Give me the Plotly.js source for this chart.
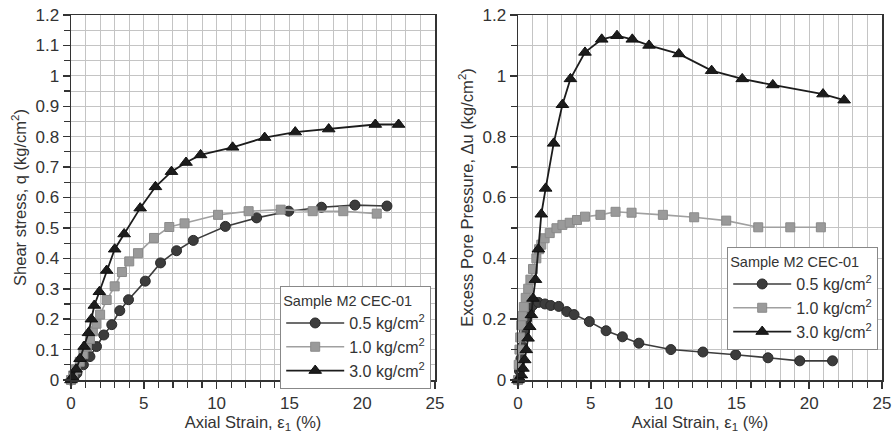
<!DOCTYPE html>
<html><head><meta charset="utf-8">
<script src="https://cdn.plot.ly/plotly-3.0.1.min.js"></script>
<style>body{margin:0;background:#fff}</style></head>
<body><div id="chart" style="width:895px;height:436px"></div>
<script>
// Left panel: shear stress q vs axial strain
const qStrain05 = [0, 0.2, 0.4, 0.85, 1.3, 1.75, 2.25, 2.8, 3.35, 3.95, 5.1, 6.15, 7.25, 8.4, 10.6, 12.75, 14.95, 17.2, 19.5, 21.7];
const q05 = [0, 0.01, 0.022, 0.05, 0.077, 0.11, 0.148, 0.182, 0.228, 0.264, 0.325, 0.385, 0.425, 0.459, 0.505, 0.533, 0.555, 0.568, 0.575, 0.572];
const qStrain10 = [0, 0.15, 0.35, 0.6, 0.85, 1.1, 1.3, 1.5, 1.75, 2.0, 2.45, 3.0, 3.5, 4.0, 4.6, 5.7, 6.75, 7.8, 10.1, 12.2, 14.4, 16.6, 18.7, 21.0];
const q10 = [0, 0.015, 0.035, 0.06, 0.085, 0.11, 0.135, 0.16, 0.185, 0.215, 0.263, 0.308, 0.355, 0.39, 0.417, 0.467, 0.503, 0.515, 0.543, 0.555, 0.56, 0.555, 0.555, 0.547];
const qStrain30 = [0, 0.1, 0.35, 0.62, 0.9, 1.2, 1.4, 1.6, 1.95, 2.45, 3.0, 3.65, 4.75, 5.8, 6.9, 7.9, 8.9, 11.1, 13.3, 15.4, 17.7, 20.9, 22.5];
const q30 = [0, 0.01, 0.035, 0.07, 0.11, 0.155, 0.2, 0.245, 0.29, 0.36, 0.43, 0.48, 0.565, 0.635, 0.685, 0.715, 0.74, 0.765, 0.797, 0.815, 0.825, 0.84, 0.84];

// Right panel: excess pore pressure du vs axial strain
const uStrain05 = [0, 0.1, 0.2, 0.3, 0.45, 0.6, 0.8, 1.0, 1.4, 1.85, 2.25, 2.8, 3.35, 3.85, 4.9, 6.05, 7.17, 8.3, 10.5, 12.7, 14.95, 17.17, 19.35, 21.6];
const u05 = [0, 0.03, 0.07, 0.11, 0.16, 0.2, 0.23, 0.245, 0.255, 0.25, 0.245, 0.242, 0.225, 0.215, 0.192, 0.162, 0.142, 0.121, 0.1, 0.092, 0.083, 0.073, 0.063, 0.063];
const uStrain10 = [0, 0.05, 0.1, 0.15, 0.22, 0.3, 0.4, 0.53, 0.7, 0.85, 1.03, 1.26, 1.45, 1.6, 1.83, 2.18, 2.64, 3.05, 3.55, 4.05, 4.6, 5.66, 6.7, 7.8, 9.95, 12.1, 14.3, 16.5, 18.7, 20.8];
const u10 = [0, 0.05, 0.1, 0.14, 0.18, 0.21, 0.24, 0.27, 0.3, 0.33, 0.365, 0.4, 0.43, 0.445, 0.466, 0.483, 0.499, 0.51, 0.517, 0.526, 0.537, 0.543, 0.553, 0.55, 0.543, 0.535, 0.524, 0.502, 0.502, 0.502];
const uStrain30 = [0, 0.1, 0.23, 0.34, 0.46, 0.57, 0.69, 0.8, 0.92, 1.03, 1.2, 1.4, 1.6, 1.9, 2.45, 3.05, 3.6, 4.6, 5.75, 6.8, 7.85, 9.0, 11.05, 13.3, 15.4, 17.5, 20.95, 22.4];
const u30 = [0, 0.005, 0.016, 0.038, 0.066, 0.099, 0.137, 0.175, 0.214, 0.268, 0.33, 0.43, 0.545, 0.63, 0.778, 0.905, 0.99, 1.077, 1.12, 1.132, 1.12, 1.1, 1.072, 1.017, 0.99, 0.97, 0.94, 0.92];

const seriesNames = ['0.5 kg/cm<sup>2</sup>', '1.0 kg/cm<sup>2</sup>', '3.0 kg/cm<sup>2</sup>'];
const legendTitle = 'Sample M2 CEC-01';

const styles = [
  {line: {color: '#3c3c3c', width: 1.6}, marker: {symbol: 'circle', size: 10, color: '#3c3c3c', line: {color: '#2a2a2a', width: 1}}},
  {line: {color: '#a0a0a0', width: 1.6}, marker: {symbol: 'square', size: 9, color: '#9a9a9a', line: {color: '#8a8a8a', width: 1}}},
  {line: {color: '#1c1c1c', width: 1.8}, marker: {symbol: 'triangle-up', size: 11, color: '#1c1c1c', line: {color: '#111', width: 1}}}
];

function tr(x, y, i, xa, ya, lg) {
  return Object.assign({x: x, y: y, name: seriesNames[i], type: 'scatter', mode: 'lines+markers',
    xaxis: xa, yaxis: ya, legend: lg, cliponaxis: false}, styles[i]);
}

const data = [
  tr(qStrain05, q05, 0, 'x', 'y', 'legend'),
  tr(qStrain10, q10, 1, 'x', 'y', 'legend'),
  tr(qStrain30, q30, 2, 'x', 'y', 'legend'),
  tr(uStrain05, u05, 0, 'x2', 'y2', 'legend2'),
  tr(uStrain10, u10, 1, 'x2', 'y2', 'legend2'),
  tr(uStrain30, u30, 2, 'x2', 'y2', 'legend2')
];

const W = 895, H = 436;
const font = {family: 'Liberation Sans, Arial, sans-serif', size: 16, color: '#333'};
const gridc = '#c4c4c4';

function xax(d, anchor) {
  return {domain: d, anchor: anchor, range: [0, 25], tick0: 0, dtick: 5, ticks: 'outside', ticklen: 7, tickwidth: 1.5,
    tickcolor: '#333', showline: true, linecolor: '#333', linewidth: 1.5, mirror: true, zeroline: false,
    showgrid: true, gridcolor: gridc, gridwidth: 1, tickfont: {size: 17, color: '#333'},
    minor: {dtick: 1, showgrid: true, gridcolor: gridc, gridwidth: 1, ticks: 'outside', ticklen: 6, tickcolor: '#333', tickwidth: 1.2},
    title: {text: 'Axial Strain, ε<sub>1</sub> (%)', font: {size: 16.5, color: '#333'}, standoff: 2}};
}
function yax(d, anchor, dt, mdt, title) {
  return {domain: d, anchor: anchor, range: [0, 1.2], tick0: 0, dtick: dt, ticks: 'outside', ticklen: 7, tickwidth: 1.5,
    tickcolor: '#333', showline: true, linecolor: '#333', linewidth: 1.5, mirror: true, zeroline: false,
    showgrid: true, gridcolor: gridc, gridwidth: 1, tickfont: {size: 17, color: '#333'},
    minor: {dtick: mdt, showgrid: true, gridcolor: gridc, gridwidth: 1, ticks: 'outside', ticklen: 6, tickcolor: '#333', tickwidth: 1.2},
    title: {text: title, font: {size: 16.5, color: '#333'}, standoff: 4}};
}

const yd = [(H - 380) / H, (H - 15) / H];
const legendBase = {bgcolor: '#fff', bordercolor: '#888', borderwidth: 1.2, yanchor: 'top', xanchor: 'left',
  font: {size: 16, color: '#333'}, tracegroupgap: 0, itemsizing: 'trace', itemwidth: 58,
  title: {text: legendTitle, font: {size: 14.5, color: '#333'}}};

const layout = {
  width: W, height: H, margin: {l: 0, r: 0, t: 0, b: 0}, paper_bgcolor: '#fff', plot_bgcolor: '#fff',
  font: font, showlegend: true,
  xaxis: xax([71 / W, 435 / W], 'y'),
  yaxis: yax(yd, 'x', 0.1, 0.05, 'Shear stress, q (kg/cm<sup>2</sup>)'),
  xaxis2: xax([518 / W, 882 / W], 'y2'),
  yaxis2: yax(yd, 'x2', 0.2, 0.1, 'Excess Pore Pressure, Δu (kg/cm<sup>2</sup>)'),
  legend: Object.assign({}, legendBase, {x: 280 / W, y: (H - 286) / H}),
  legend2: Object.assign({}, legendBase, {x: 727 / W, y: (H - 247) / H})
};

Plotly.newPlot('chart', data, layout, {staticPlot: true, displayModeBar: false});
</script></body></html>
